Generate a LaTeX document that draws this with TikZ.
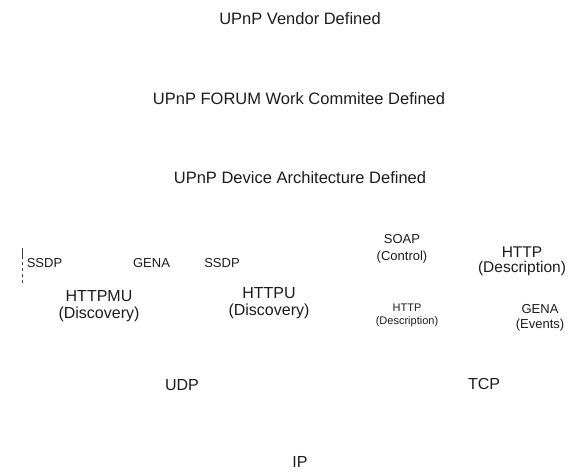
\documentclass[tikz,border=0pt]{standalone}
\usepackage{fontspec}
\setmainfont{Liberation Sans}
\newcommand{\fsz}[2]{\fontsize{#1}{#2}\selectfont}
\definecolor{ink}{HTML}{1C1C1C}
\tikzset{
  lbl/.style={inner sep=0pt, outer sep=0pt, text=ink},
  big/.style={lbl, anchor=base, font=\fsz{16.5}{19}},
  mid/.style={lbl, anchor=base, font=\fsz{16}{19}},
  proto/.style={lbl, anchor=base, font=\fsz{13}{15}},
  stack/.style={lbl, anchor=center, align=center},
  edgemark/.style={draw=ink!85, line width=0.8pt,
    dash pattern=on 11pt off 3pt on 3pt off 3pt on 3pt off 3pt on 3pt off 3pt on 3pt}
}
\begin{document}
\begin{tikzpicture}[x=1pt, y=-1pt]
  \useasboundingbox (0,0) rectangle (577,471);

  % layer titles
  \node[big] (vendor) at (300,24.9) {UPnP Vendor Defined};
  \node[big] (forum)  at (299,104.9) {UPnP FORUM Work Commitee Defined};
  \node[big] (arch)   at (300,183.9) {UPnP Device Architecture Defined};

  % discovery side
  \coordinate (markTop) at (22,248);
  \coordinate (markBot) at (22,283);
  \draw[edgemark] (markTop) -- (markBot);
  \node[proto] (ssdpA) at (44.5,267.7) {SSDP};
  \node[proto] (genaA) at (151.5,267.7) {GENA};
  \node[proto] (ssdpB) at (222,267.7) {SSDP};
  \node[stack, font=\fsz{16}{17}] (httpmu) at (99,306.2) {HTTPMU\\(Discovery)};
  \node[stack, font=\fsz{16}{17}] (httpu)  at (269,303.2) {HTTPU\\(Discovery)};

  % control / description / eventing side
  \node[stack, font=\fsz{13}{17}]     (soap)   at (402,248.9) {SOAP\\(Control)};
  \node[stack, font=\fsz{15.5}{15.5}] (httpD)  at (522,261.4) {HTTP\\(Description)};
  \node[stack, font=\fsz{11}{13}]     (httpd)  at (407,315.7) {HTTP\\(Description)};
  \node[stack, font=\fsz{13}{15}]     (genaB)  at (540,317.9) {GENA\\(Events)};

  % transport and network
  \node[mid] (udp) at (182,390.7) {UDP};
  \node[mid] (tcp) at (484,389.7) {TCP};
  \node[mid] (ip)  at (300,467.7) {IP};
\end{tikzpicture}
\end{document}
